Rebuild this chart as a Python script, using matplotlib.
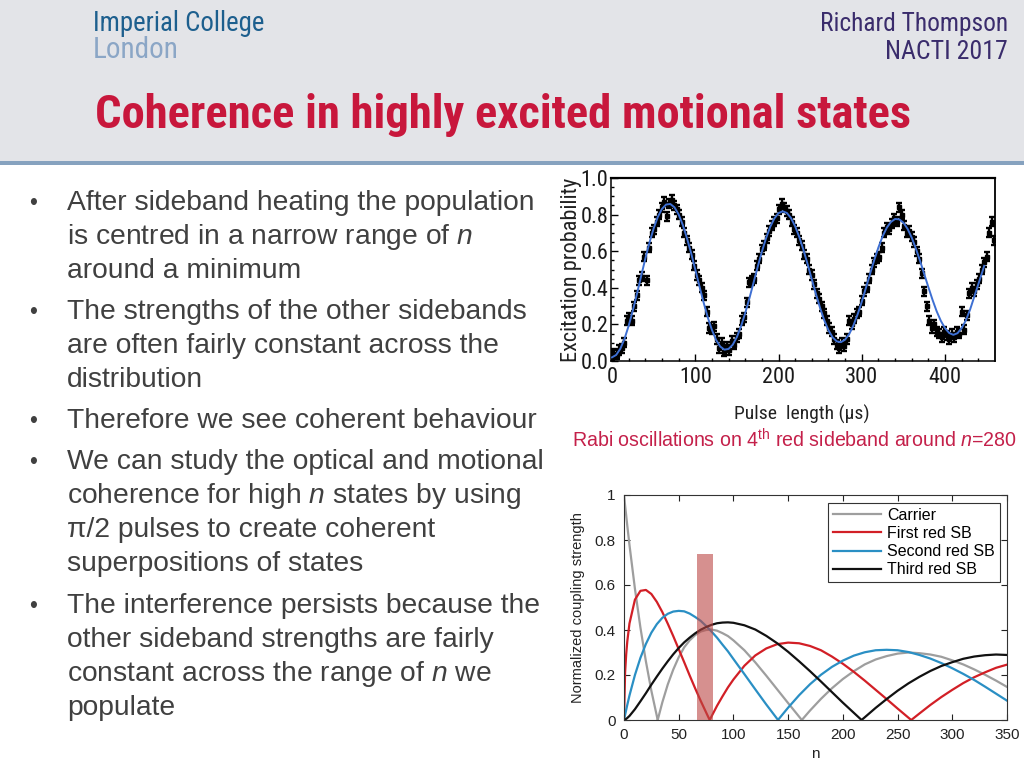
import matplotlib
matplotlib.use('Agg')
import matplotlib.pyplot as plt
import numpy as np
from matplotlib.patches import Rectangle
from matplotlib import font_manager as fm

# ---------------- data ----------------
slide_title = "Coherence in highly excited motional states"
author_lines = ["Richard Thompson", "NACTI 2017"]
logo_lines = ["Imperial College", "London"]
caption = r"Rabi oscillations on 4$^{\rm th}$ red sideband around $n$=280"

bullet_lines = [
    ("After sideband heating the population", True),
    (r"is centred in a narrow range of $n$", False),
    ("around a minimum", False),
    ("The strengths of the other sidebands", True),
    ("are often fairly constant across the", False),
    ("distribution", False),
    ("Therefore we see coherent behaviour", True),
    ("We can study the optical and motional", True),
    (r"coherence for high $n$ states by using", False),
    ("\u03c0/2 pulses to create coherent", False),
    ("superpositions of states", False),
    ("The interference persists because the", True),
    ("other sideband strengths are fairly", False),
    (r"constant across the range of $n$ we", False),
    ("populate", False),
]

# Rabi oscillation data (excitation probability, measured every 3 us)
excitation_data = [
    0.03, 0.04, 0.035, 0.06, 0.07, 0.10, 0.22, 0.24, 0.22, 0.30,
    0.36, 0.44, 0.46, 0.57, 0.44, 0.62, 0.70, 0.72, 0.76, 0.80,
    0.84, 0.87, 0.79, 0.86, 0.88, 0.85, 0.83, 0.80, 0.76, 0.70,
    0.66, 0.62, 0.58, 0.52, 0.47, 0.44, 0.40, 0.36, 0.27, 0.18,
    0.17, 0.19, 0.12, 0.07, 0.10, 0.05, 0.08, 0.06, 0.11, 0.09,
    0.13, 0.15, 0.22, 0.24, 0.32, 0.43, 0.44, 0.45, 0.52, 0.56,
    0.61, 0.63, 0.67, 0.71, 0.74, 0.76, 0.78, 0.83, 0.86, 0.84,
    0.82, 0.80, 0.76, 0.72, 0.70, 0.66, 0.63, 0.58, 0.56, 0.50,
    0.47, 0.42, 0.37, 0.34, 0.30, 0.26, 0.22, 0.18, 0.16, 0.12,
    0.09, 0.07, 0.10, 0.08, 0.12, 0.22, 0.20, 0.23, 0.26, 0.27,
    0.33, 0.38, 0.40, 0.45, 0.50, 0.54, 0.56, 0.57, 0.62, 0.70,
    0.73, 0.72, 0.75, 0.78, 0.76, 0.84, 0.80, 0.74, 0.70, 0.71,
    0.68, 0.65, 0.60, 0.56, 0.48, 0.38, 0.30, 0.22, 0.18, 0.20,
    0.16, 0.15, 0.13, 0.16, 0.14, 0.12, 0.15, 0.13, 0.16, 0.15,
    0.27, 0.17, 0.25, 0.37, 0.40, 0.38, 0.42, 0.45, 0.50, 0.54,
    0.57, 0.70, 0.76, 0.66,
]
pulse_step_us = 3
excitation_err = 0.025

fit_times = [0, 5, 10, 15, 20, 25, 30, 35, 40, 45, 50, 55, 60, 65, 70, 75, 80, 85,
             90, 95, 100, 105, 110, 115, 120, 125, 130, 135, 140, 145, 150, 155,
             160, 165, 170, 175, 180, 185, 190, 195, 200, 205, 210, 215, 220, 225,
             230, 235, 240, 245, 250, 255, 260, 265, 270, 275, 280, 285, 290, 295,
             300, 305, 310, 315, 320, 325, 330, 335, 340, 345, 350, 355, 360, 365,
             370, 375, 380, 385, 390, 395, 400, 405, 410, 415, 420, 425, 430, 435,
             440, 445, 447]
fit_values = [0.020, 0.033, 0.067, 0.121, 0.192, 0.276, 0.368, 0.464, 0.559, 0.647,
              0.724, 0.787, 0.831, 0.855, 0.858, 0.840, 0.801, 0.744, 0.672, 0.590,
              0.500, 0.409, 0.320, 0.239, 0.170, 0.115, 0.079, 0.062, 0.066, 0.089,
              0.131, 0.190, 0.262, 0.342, 0.428, 0.515, 0.597, 0.671, 0.733, 0.779,
              0.808, 0.818, 0.809, 0.781, 0.736, 0.677, 0.606, 0.528, 0.446, 0.365,
              0.289, 0.222, 0.168, 0.129, 0.107, 0.103, 0.117, 0.148, 0.195, 0.255,
              0.324, 0.400, 0.477, 0.552, 0.621, 0.681, 0.728, 0.760, 0.776, 0.774,
              0.756, 0.722, 0.674, 0.614, 0.547, 0.475, 0.403, 0.334, 0.271, 0.219,
              0.179, 0.153, 0.143, 0.152, 0.180, 0.222, 0.280, 0.350, 0.420, 0.490,
              0.520]

# Coupling strengths vs n
n_values = [0, 1, 2, 3, 5, 10, 15, 20, 25, 30, 35, 40, 45, 50, 55, 60, 65, 70, 75,
            80, 85, 90, 95, 100, 110, 120, 130, 140, 150, 160, 170, 180, 190, 200,
            210, 220, 230, 240, 250, 260, 270, 280, 290, 300, 310, 320, 330, 340, 350]
carrier = [1.000, 0.953, 0.909, 0.864, 0.778, 0.583, 0.411, 0.261, 0.130, 0.018,
           0.078, 0.158, 0.224, 0.279, 0.323, 0.354, 0.377, 0.393, 0.400, 0.402,
           0.397, 0.386, 0.373, 0.354, 0.310, 0.256, 0.197, 0.136, 0.075, 0.015,
           0.042, 0.094, 0.141, 0.182, 0.217, 0.247, 0.269, 0.284, 0.295, 0.300,
           0.297, 0.291, 0.281, 0.265, 0.247, 0.225, 0.201, 0.175, 0.147]
first_red = [0.000, 0.211, 0.292, 0.349, 0.429, 0.535, 0.574, 0.578, 0.560, 0.525,
             0.480, 0.428, 0.373, 0.315, 0.257, 0.198, 0.141, 0.086, 0.034, 0.016,
             0.063, 0.105, 0.145, 0.180, 0.241, 0.287, 0.318, 0.337, 0.344, 0.341,
             0.329, 0.310, 0.282, 0.250, 0.214, 0.175, 0.134, 0.093, 0.051, 0.010,
             0.029, 0.067, 0.102, 0.134, 0.164, 0.190, 0.212, 0.232, 0.246]
second_red = [0.000, 0.023, 0.045, 0.067, 0.109, 0.200, 0.276, 0.338, 0.388, 0.426,
              0.454, 0.472, 0.482, 0.485, 0.483, 0.473, 0.458, 0.441, 0.418, 0.393,
              0.366, 0.335, 0.305, 0.271, 0.204, 0.136, 0.069, 0.005, 0.055, 0.110,
              0.159, 0.201, 0.236, 0.264, 0.286, 0.301, 0.310, 0.312, 0.310, 0.302,
              0.289, 0.273, 0.253, 0.230, 0.205, 0.178, 0.148, 0.117, 0.086]
third_red = [0.000, 0.002, 0.005, 0.009, 0.018, 0.048, 0.083, 0.119, 0.157, 0.193,
             0.228, 0.261, 0.292, 0.320, 0.345, 0.366, 0.385, 0.401, 0.413, 0.423,
             0.430, 0.433, 0.434, 0.432, 0.421, 0.402, 0.374, 0.341, 0.303, 0.261,
             0.217, 0.171, 0.124, 0.077, 0.032, 0.012, 0.054, 0.093, 0.130, 0.163,
             0.192, 0.218, 0.240, 0.257, 0.272, 0.282, 0.288, 0.291, 0.289]
# n positions where each curve touches zero
carrier_zeros = [30.8, 162.5]
first_red_zeros = [78.3, 262.5]
second_red_zeros = [140.7]
third_red_zeros = [217.1]

series_labels = ["Carrier", "First red SB", "Second red SB", "Third red SB"]
series_colors = ["#9e9e9e", "#d21f26", "#2a8fc4", "#111111"]

highlight_n = (67, 81)
highlight_top = 0.74

# ---------------- fonts ----------------
SANS = ['Liberation Sans', 'DejaVu Sans']
plt.rcParams['font.family'] = SANS
plt.rcParams['mathtext.fontset'] = 'custom'
plt.rcParams['mathtext.rm'] = 'Liberation Sans'
plt.rcParams['mathtext.it'] = 'Liberation Sans:italic'

CONDENSED = ('condensed', 'semi-condensed', 'extra-condensed', 'ultra-condensed')
PREFERRED = ['Liberation Sans Narrow', 'Arial Narrow', 'Roboto Condensed',
             'DejaVu Sans', 'Noto Sans', 'Open Sans', 'Open Sans Condensed']


def weight_num(w):
    if isinstance(w, (int, float)):
        return int(w)
    table = {'ultralight': 200, 'light': 300, 'normal': 400, 'regular': 400,
             'book': 400, 'medium': 500, 'semibold': 600, 'demibold': 600,
             'bold': 700, 'heavy': 800, 'extra bold': 800, 'black': 900}
    return table.get(str(w).lower(), 400)


def condensed_font(bold):
    cands = []
    for f in fm.fontManager.ttflist:
        nm = f.name
        is_cond = (str(f.stretch) in CONDENSED or 'Narrow' in nm or 'Condensed' in nm
                   or 'Condensed' in f.fname or 'Narrow' in f.fname)
        if not is_cond or f.style != 'normal':
            continue
        w = weight_num(f.weight)
        if bold and w < 700:
            continue
        if not bold and not (350 <= w <= 450):
            continue
        rank = PREFERRED.index(nm) if nm in PREFERRED else len(PREFERRED)
        cands.append((rank, abs(w - (700 if bold else 400)), f.fname))
    if not cands:
        return None
    cands.sort()
    return cands[0][2]


_nreg = condensed_font(False)
_nbold = condensed_font(True)


def narrow_fp(bold=False):
    path = _nbold if bold else _nreg
    if path:
        return fm.FontProperties(fname=path)
    return fm.FontProperties(family=SANS, weight='bold' if bold else 'normal')


# ---------------- figure ----------------
W, H = 1024, 768
fig = plt.figure(figsize=(W / 100, H / 100), dpi=100)
fig.patch.set_facecolor('white')
renderer = fig.canvas.get_renderer()


def fx(x):
    return x / W


def fy(y):
    return 1 - y / H


def fit_text(x, y, s, extent, size=12, vertical=False, fp=None, **kw):
    kw.setdefault('va', 'baseline')
    if fp is not None:
        fp = fp.copy()
        fp.set_size(size)
        t = fig.text(fx(x), fy(y), s, fontproperties=fp, **kw)
    else:
        t = fig.text(fx(x), fy(y), s, fontsize=size, **kw)
    bb = t.get_window_extent(renderer=renderer)
    cur = bb.height if vertical else bb.width
    t.set_fontsize(size * extent / cur)
    return t


# header band
fig.add_artist(Rectangle((0, fy(161)), 1, 161 / H, transform=fig.transFigure,
                         facecolor='#e3e4e8', edgecolor='none', zorder=0))
fig.add_artist(Rectangle((0, fy(165)), 1, 4.5 / H, transform=fig.transFigure,
                         facecolor='#86a2bf', edgecolor='none', zorder=1))

fit_text(93, 31, logo_lines[0], 172, fp=narrow_fp(), color='#1d5f8e')
fit_text(93, 58, logo_lines[1], 86, fp=narrow_fp(), color='#8ba6c6')
fit_text(1008, 31, author_lines[0], 188, fp=narrow_fp(), color='#3a2c6c', ha='right')
fit_text(1008, 59, author_lines[1], 122, fp=narrow_fp(), color='#3a2c6c', ha='right')
fit_text(95, 128, slide_title, 820, fp=narrow_fp(True), color='#c8173c')

# bullets
baselines = [210, 244, 278, 319, 353, 387, 428, 469, 503, 537, 571, 613, 647, 681, 715]
ref = fit_text(67, baselines[7], bullet_lines[7][0], 480, family=SANS, color='#404040')
body_size = ref.get_fontsize()
for (line, has_bullet), yb in zip(bullet_lines, baselines):
    if line != bullet_lines[7][0]:
        fig.text(fx(67), fy(yb), line, fontsize=body_size, family=SANS,
                 color='#404040', va='baseline')
    if has_bullet:
        fig.text(fx(33), fy(yb), "\u2022", fontsize=body_size * 0.8, family=SANS,
                 color='#404040', va='baseline', ha='center')

fit_text(572, 447, caption, 446, family=SANS, color='#c4204a')

# ---------------- upper chart ----------------
ax1 = fig.add_axes([fx(611), fy(361), (995 - 611) / W, (361 - 178) / H])
t_data = np.arange(len(excitation_data)) * pulse_step_us
ax1.errorbar(t_data, excitation_data, yerr=excitation_err, fmt='s', ms=3.4,
             color='black', ecolor='black', elinewidth=1.7, capsize=2.0,
             capthick=1.7, zorder=2)
ax1.plot(fit_times, fit_values, color='#3d6fd3', lw=1.4, zorder=3)
ax1.set_xlim(-1.2, 460)
ax1.set_ylim(0, 1)
ax1.set_xticks([0, 100, 200, 300, 400])
ax1.set_xticks(np.arange(0, 460, 20), minor=True)
ax1.set_yticks([0, 0.2, 0.4, 0.6, 0.8, 1.0])
ax1.set_yticks(np.arange(0, 1.0001, 0.05), minor=True)
ax1.set_yticklabels(['0.0', '0.2', '0.4', '0.6', '0.8', '1.0'])
ax1.tick_params(which='both', direction='in', top=False, right=False, width=1.0)
ax1.tick_params(which='major', length=5)
ax1.tick_params(axis='y', which='major', pad=2)
ax1.tick_params(axis='x', which='major', pad=4)
ax1.tick_params(which='minor', length=2.5)
tick_fp = narrow_fp()
tick_fp.set_size(16 if _nreg else 12.5)
for lab in ax1.get_xticklabels() + ax1.get_yticklabels():
    lab.set_fontproperties(tick_fp)
    lab.set_color('#1a1a1a')
for s in ax1.spines.values():
    s.set_linewidth(1.1)
ax1.spines['top'].set_linewidth(1.6)
ax1.spines['right'].set_linewidth(1.3)

fit_text(571, 269.5, "Excitation probability", 185, vertical=True, rotation=90,
         ha='center', va='center', fp=narrow_fp(), color='#222222')
xl_fp = narrow_fp()
xl_fp.set_size(14 if _nreg else 12)
fig.text(fx(802), fy(420), "Pulse  length (\u03bcs)", fontproperties=xl_fp,
         ha='center', va='baseline', color='#222222')

# ---------------- lower chart ----------------
ax2 = fig.add_axes([fx(624), fy(720), (1007 - 624) / W, (720 - 495) / H])


def with_zeros(vals, zeros):
    n = list(n_values) + list(zeros)
    v = list(vals) + [0.0] * len(zeros)
    order = np.argsort(n)
    return np.array(n)[order], np.array(v)[order]


curves = [(carrier, carrier_zeros), (first_red, first_red_zeros),
          (second_red, second_red_zeros), (third_red, third_red_zeros)]
for (vals, zeros), col, lab in zip(curves, series_colors, series_labels):
    nn, vv = with_zeros(vals, zeros)
    ax2.plot(nn, vv, color=col, lw=1.6, label=lab, zorder=2)

ax2.bar((highlight_n[0] + highlight_n[1]) / 2, highlight_top,
        width=highlight_n[1] - highlight_n[0], color='#bb4644', alpha=0.6,
        edgecolor='none', zorder=3)
ax2.set_xlim(0, 350)
ax2.set_ylim(0, 1)
ax2.set_xticks([0, 50, 100, 150, 200, 250, 300, 350])
ax2.set_yticks([0, 0.2, 0.4, 0.6, 0.8, 1.0])
ax2.set_yticklabels(['0', '0.2', '0.4', '0.6', '0.8', '1'])
ax2.tick_params(direction='in', top=True, right=True, length=4, width=0.8,
                labelsize=11, pad=6, colors='#222222')
for s in ax2.spines.values():
    s.set_linewidth(0.8)
    s.set_color('#333333')
ax2.set_xlabel('n', fontsize=11, labelpad=3, color='#222222')
ax2.set_ylabel('Normalized coupling strength', fontsize=10.5, labelpad=7,
               color='#222222')
leg = ax2.legend(loc='upper right', bbox_to_anchor=(fx(1000), fy(503)),
                 bbox_transform=fig.transFigure, borderaxespad=0, fontsize=11.5,
                 frameon=True, fancybox=False, edgecolor='#333333', framealpha=1,
                 handlelength=3.0, handletextpad=0.4, labelspacing=0.2,
                 borderpad=0.3)
leg.get_frame().set_linewidth(0.8)

fig.savefig('out.png', dpi=100)
